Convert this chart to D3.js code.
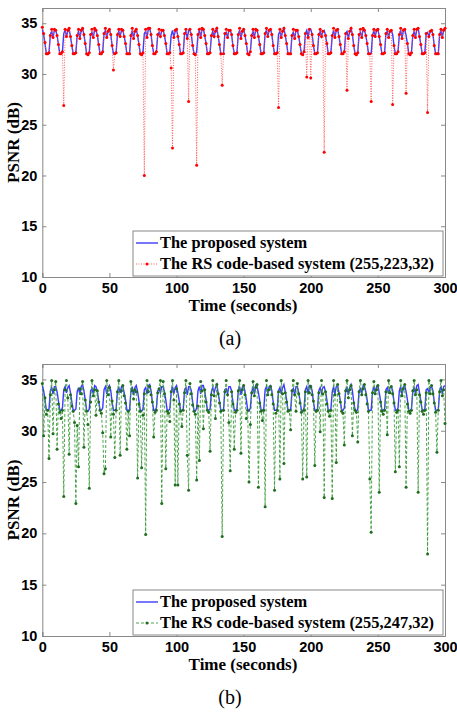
<!DOCTYPE html>
<html lang="en">
<head>
<meta charset="UTF-8">
<title>PSNR comparison</title>
<script src="https://cdn.jsdelivr.net/npm/d3@7/dist/d3.min.js"></script>
<style>
    body { margin: 0; background: #fff; }
    svg { display: block; font-family: "Liberation Serif", "Times New Roman", serif; }
    .tick text { font-weight: bold; font-size: 14.5px; fill: #000; }
    .label { font-weight: bold; font-size: 17px; }
    .legend text { font-weight: bold; font-size: 16.4px; }
    .caption { font-size: 20px; }
</style>
</head>
<body>
<div id="chart"></div>
<script>
// PSNR per second (index = time in seconds, 0..300)
var proposed = [
    34.4,33.9,33.0,32.0,32.0,32.1,33.9,34.2,33.6,34.3,
    34.3,33.8,32.9,32.0,32.0,32.2,34.0,34.3,33.7,34.2,
    34.4,33.7,32.8,32.0,32.0,32.1,33.8,34.2,33.5,34.3,
    34.5,33.9,33.0,32.0,31.9,32.1,33.9,34.1,33.6,34.4,
    34.3,33.8,32.9,32.0,32.0,32.2,34.0,34.3,33.6,34.2,
    34.4,33.9,32.8,32.0,32.0,32.1,33.9,34.2,33.7,34.3,
    34.3,33.7,33.0,32.0,32.0,32.0,33.8,34.3,33.5,34.2,
    34.4,33.8,32.9,32.0,31.9,32.1,34.0,34.2,33.6,34.4,
    34.5,33.9,32.8,32.0,32.0,32.2,33.9,34.1,33.7,34.3,
    34.3,33.8,33.0,32.0,32.0,32.1,33.8,34.3,33.6,34.2,
    34.4,33.7,32.9,32.0,32.0,32.1,34.0,34.2,33.5,34.3,
    34.3,33.9,32.8,32.0,31.9,32.2,33.9,34.3,33.6,34.4,
    34.4,33.8,33.0,32.0,32.0,32.1,33.8,34.2,33.7,34.2,
    34.5,33.7,32.9,32.0,32.0,32.0,34.0,34.1,33.6,34.3,
    34.3,33.9,32.8,32.0,32.0,32.1,33.9,34.3,33.5,34.2,
    34.4,33.8,33.0,32.0,31.9,32.2,33.8,34.2,33.6,34.4,
    34.3,33.7,32.9,32.0,32.0,32.1,34.0,34.3,33.7,34.3,
    34.4,33.9,32.8,32.0,32.0,32.1,33.9,34.2,33.6,34.2,
    34.5,33.8,33.0,32.0,32.0,32.0,33.8,34.1,33.5,34.3,
    34.3,33.7,32.9,32.0,31.9,32.2,34.0,34.3,33.6,34.4,
    34.4,33.9,32.8,32.0,32.0,32.1,33.9,34.2,33.7,34.2,
    34.3,33.8,33.0,32.0,32.0,32.1,33.8,34.3,33.6,34.3,
    34.4,33.7,32.9,32.0,32.0,32.2,34.0,34.2,33.5,34.2,
    34.5,33.9,32.8,32.0,31.9,32.1,33.9,34.1,33.6,34.4,
    34.3,33.8,33.0,32.0,32.0,32.0,33.8,34.3,33.7,34.3,
    34.4,33.7,32.9,32.0,32.0,32.1,34.0,34.2,33.6,34.2,
    34.3,33.9,32.8,32.0,32.0,32.2,33.9,34.3,33.5,34.3,
    34.4,33.8,33.0,32.0,31.9,32.1,33.8,34.2,33.6,34.4,
    34.5,33.7,32.9,32.0,32.0,32.1,34.0,34.1,33.7,34.2,
    34.3,33.9,32.8,32.0,32.0,32.0,33.9,34.3,33.6,34.3,
    34.4
];

var rs223 = [
    34.6,34.0,33.1,32.0,32.0,32.1,33.8,34.4,33.6,34.4,
    34.3,33.8,32.9,32.0,32.0,32.2,26.9,34.4,33.7,34.3,
    34.5,33.7,32.8,32.0,32.0,32.1,33.8,34.4,33.5,34.3,
    34.5,33.9,33.0,32.0,31.9,32.1,33.9,34.4,33.6,34.5,
    34.3,33.8,32.9,32.0,32.0,32.2,34.0,34.5,33.6,34.2,
    34.4,33.9,32.8,30.4,32.0,32.1,33.9,34.4,33.7,34.4,
    34.3,33.7,33.0,32.0,32.0,32.0,33.8,34.5,33.5,34.2,
    34.4,33.8,32.9,32.0,31.9,32.1,20.0,34.4,33.6,34.5,
    34.5,33.9,32.8,32.0,32.0,32.2,33.9,34.4,33.7,34.3,
    34.3,33.8,33.0,32.0,32.0,32.1,30.6,22.7,33.6,34.3,
    34.4,33.7,32.9,32.0,32.0,32.1,34.0,34.4,33.5,27.3,
    34.4,33.9,32.8,32.0,31.9,21.0,33.9,34.4,33.6,34.5,
    34.4,33.8,33.0,32.0,32.0,32.1,33.8,34.4,33.7,34.2,
    34.5,33.7,32.9,32.0,28.9,32.0,34.0,34.4,33.6,34.3,
    34.3,33.9,32.8,32.0,32.0,32.1,33.9,34.5,33.5,34.2,
    34.4,33.8,33.0,32.0,31.9,32.2,33.8,34.4,33.6,34.4,
    34.3,33.7,32.9,32.0,32.0,32.1,34.0,34.5,33.7,34.3,
    34.4,33.9,32.8,32.0,32.0,32.1,26.7,34.4,33.6,34.2,
    34.5,33.8,33.0,32.0,32.0,32.0,33.8,34.4,33.5,34.3,
    34.3,33.7,32.9,32.0,31.9,32.2,34.0,29.7,33.6,34.4,
    29.6,33.9,32.8,32.0,32.0,32.1,33.9,34.4,33.7,34.2,
    22.3,33.8,33.0,32.0,32.0,32.1,33.8,34.5,33.6,34.3,
    34.4,33.7,32.9,32.0,32.0,32.2,34.0,28.4,33.5,34.2,
    34.5,33.9,32.8,32.0,31.9,32.1,33.9,34.4,33.6,34.5,
    34.3,33.8,33.0,32.0,32.0,27.3,33.8,34.4,33.7,34.3,
    34.4,33.7,32.9,32.0,32.0,32.1,34.0,34.4,33.6,34.2,
    34.3,27.0,32.8,32.0,32.0,32.2,33.9,34.5,33.5,34.3,
    34.4,28.1,33.0,32.0,31.9,32.1,33.8,34.4,33.6,34.4,
    34.5,33.7,32.9,32.0,32.0,32.1,34.0,26.2,33.7,34.2,
    34.3,33.9,32.8,32.0,32.0,32.0,33.9,34.4,33.6,34.3,
    34.5
];

var rs247 = [
    34.6,29.5,33.2,31.6,32.0,27.3,33.5,34.9,29.7,34.0,
    34.8,28.2,32.6,31.8,31.2,32.0,23.6,34.0,34.9,33.2,
    27.7,33.5,32.4,31.9,30.8,22.9,30.5,26.5,34.1,33.6,
    34.8,28.4,33.0,31.9,30.6,24.4,32.8,34.9,33.4,34.0,
    31.5,33.9,32.8,32.0,31.7,29.8,25.8,26.3,34.9,33.5,
    34.2,29.4,32.9,31.6,27.4,32.0,33.8,34.9,27.6,33.9,
    34.4,33.4,32.7,28.2,31.9,29.5,34.8,33.9,33.1,34.0,
    33.8,25.4,32.6,31.9,26.4,31.5,33.6,19.9,34.9,33.8,
    34.3,33.5,32.8,29.4,31.8,32.0,33.7,34.1,34.9,22.9,
    34.8,33.6,26.3,31.9,31.7,30.9,33.8,34.9,33.0,24.7,
    34.1,24.7,32.6,31.9,30.4,32.0,33.7,34.9,27.6,24.2,
    34.6,33.6,32.5,31.9,31.6,25.2,32.4,27.1,34.8,33.9,
    30.2,34.0,32.8,32.0,31.8,28.0,33.5,34.9,33.4,31.2,
    34.5,33.6,32.7,31.9,19.7,32.0,33.8,34.9,33.5,30.8,
    26.1,33.8,32.6,28.2,31.8,32.0,33.9,34.9,27.8,34.0,
    34.4,33.5,31.2,32.0,25.0,30.6,33.7,34.8,33.4,34.2,
    34.5,24.5,32.7,31.9,31.0,32.0,22.6,34.9,33.5,34.0,
    34.3,33.5,32.6,24.2,31.7,32.0,33.8,25.3,34.9,33.6,
    26.8,33.7,32.8,31.9,32.0,30.1,33.9,34.9,33.5,31.9,
    34.6,33.6,32.7,31.8,25.3,32.0,33.8,25.5,34.9,33.7,
    34.3,33.5,32.9,26.6,31.9,32.0,33.7,29.9,34.9,33.6,
    23.5,33.8,32.6,31.9,31.4,32.0,23.4,34.9,33.5,26.9,
    34.5,33.6,32.8,31.9,31.7,28.6,33.9,34.9,33.2,34.0,
    34.4,29.5,32.7,32.0,31.8,28.9,33.8,34.9,33.5,34.1,
    34.5,33.5,32.6,31.9,25.3,20.1,33.7,34.8,33.6,34.0,
    34.4,24.0,32.8,31.9,31.6,32.0,33.8,29.6,34.9,33.7,
    34.3,33.6,32.7,26.0,31.8,32.0,26.5,34.9,33.4,34.1,
    34.5,24.5,32.6,31.9,31.7,32.0,33.9,34.9,33.5,34.0,
    24.0,33.5,32.8,31.9,31.6,32.0,33.7,18.0,34.9,33.6,
    34.4,33.6,32.7,31.8,27.9,32.0,33.8,34.9,33.4,34.0,
    30.7
];

var xTicks = [0, 50, 100, 150, 200, 250, 300];
var yTicks = [10, 15, 20, 25, 30, 35];
var legendLabels = ["The proposed system", "The RS code-based system (255,223,32)", "The RS code-based system (255,247,32)"];

var W = 457, H = 715;
var svg = d3.select("#chart").append("svg").attr("width", W).attr("height", H);
svg.append("rect").attr("width", W).attr("height", H).attr("fill", "#fff");

function drawPanel(top, bottom, rsData, rsLabel, rsStyle, caption) {
    var x = d3.scaleLinear().domain([0, 300]).range([42.3, 445]);
    var y = d3.scaleLinear().domain([10, 36.5]).range([bottom, top]);
    var g = svg.append("g");

    // inward ticks on all four sides, matlab style
    g.append("g").attr("transform", "translate(0," + bottom + ")")
        .call(d3.axisBottom(x).tickValues(xTicks).tickSize(-4).tickPadding(6));
    g.append("g").attr("transform", "translate(0," + top + ")")
        .call(d3.axisTop(x).tickValues(xTicks).tickSize(-4).tickFormat(""));
    g.append("g").attr("transform", "translate(42.3,0)")
        .call(d3.axisLeft(y).tickValues(yTicks).tickSize(-4).tickPadding(5));
    g.append("g").attr("transform", "translate(445,0)")
        .call(d3.axisRight(y).tickValues(yTicks).tickSize(-4).tickFormat(""));
    g.selectAll(".domain").attr("stroke", "#888");
    g.selectAll(".tick line").attr("stroke", "#888");

    var line = d3.line().x(function(d, i) { return x(i); }).y(function(d) { return y(d); });

    g.append("path").datum(proposed).attr("d", line)
        .attr("fill", "none").attr("stroke", "#3b3bff").attr("stroke-width", 1.4);
    g.append("path").datum(rsData).attr("d", line)
        .attr("fill", "none").attr("stroke", rsStyle.line).attr("stroke-width", 0.9)
        .attr("stroke-dasharray", rsStyle.dash);
    g.selectAll(".pt").data(rsData).enter().append("circle")
        .attr("cx", function(d, i) { return x(i); })
        .attr("cy", function(d) { return y(d); })
        .attr("r", 1.5).attr("fill", rsStyle.marker);

    // legend
    var lg = g.append("g").attr("class", "legend");
    var ly0 = bottom - 46, ly1 = bottom - 1;
    lg.append("rect").attr("x", 133).attr("y", ly0).attr("width", 310).attr("height", ly1 - ly0)
        .attr("fill", "#fff").attr("stroke", "#888");
    var r1 = bottom - 34, r2 = bottom - 13;
    lg.append("line").attr("x1", 136).attr("x2", 158).attr("y1", r1).attr("y2", r1)
        .attr("stroke", "#3b3bff").attr("stroke-width", 1.4);
    lg.append("text").attr("x", 160).attr("y", r1 + 5).text(legendLabels[0]);
    lg.append("line").attr("x1", 136).attr("x2", 158).attr("y1", r2).attr("y2", r2)
        .attr("stroke", rsStyle.line).attr("stroke-width", 0.9).attr("stroke-dasharray", rsStyle.dash);
    lg.append("circle").attr("cx", 147).attr("cy", r2).attr("r", 1.5).attr("fill", rsStyle.marker);
    lg.append("text").attr("x", 160).attr("y", r2 + 5).text(rsLabel);

    // axis labels
    g.append("text").attr("class", "label").attr("text-anchor", "middle")
        .attr("x", 243).attr("y", bottom + 34).text("Time (seconds)");
    g.append("text").attr("class", "label").attr("text-anchor", "middle")
        .attr("transform", "translate(19," + ((top + bottom) / 2) + ") rotate(-90)")
        .text("PSNR (dB)");
    g.append("text").attr("class", "caption").attr("text-anchor", "middle")
        .attr("x", 230).attr("y", bottom + 68).text(caption);
}

drawPanel(8, 277, rs223, legendLabels[1], { line: "#ff4d4d", dash: "1,1.5", marker: "#ff0000" }, "(a)");
drawPanel(364, 636, rs247, legendLabels[2], { line: "#3a9a3a", dash: "3,2", marker: "#1f6e1f" }, "(b)");
</script>
</body>
</html>
